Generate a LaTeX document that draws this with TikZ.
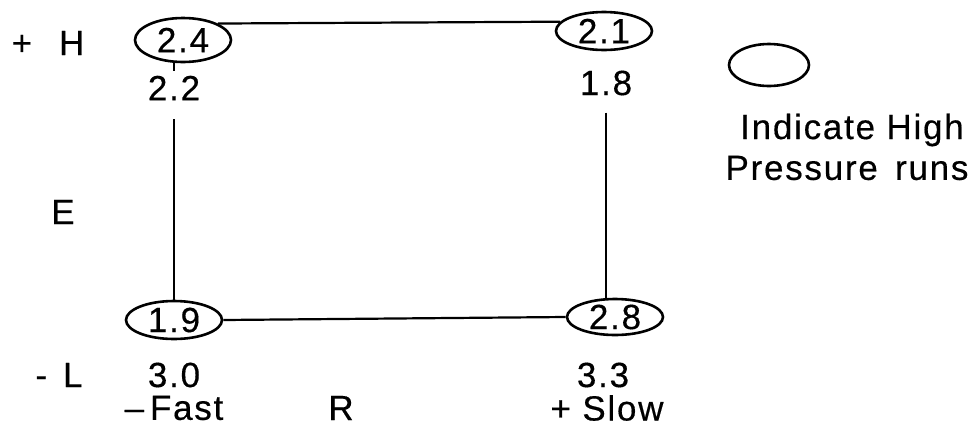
\documentclass[tikz,border=0pt]{standalone}
\usepackage{fontspec}
\setmainfont{Liberation Sans}[LetterSpace=5, FakeBold=0.4]
\usetikzlibrary{shapes.geometric}
\begin{document}
\begin{tikzpicture}[x=1pt,y=-1pt,
  every node/.style={font=\fontsize{35}{41}\selectfont, inner sep=0pt},
  run/.style={ellipse, draw, line width=2.6pt, minimum width=96pt, minimum height=44pt},
  conn/.style={line width=2.2pt},
  lbl/.style={inner sep=5pt}]
\useasboundingbox (0,0) rectangle (978,432);
% high pressure runs
\node[run] (n24) at (183,40) {2.4};
\node[run, minimum height=38pt] (n21) at (604,31) {2.1};
\node[run, minimum height=38pt] (n19) at (174,320) {1.9};
\node[run, minimum height=36pt] (n28) at (615,317) {2.8};
% other values
\node[lbl] (l22) at (174,88) {2.2};
\node[lbl] (l18) at (606,83) {1.8};
\node[lbl] (l30) at (174,375) {3.0};
\node[lbl] (l33) at (603,375) {3.3};
% axis labels
\node (hi) at (48,43) {+\hspace{27pt}H};
\node (lo) at (59,375) {-\hspace{16pt}L};
\node (e) at (63,212) {E};
\node (fast) at (174,408) {\textendash\,Fast};
\node (r) at (341,408) {R};
\node (slow) at (607,408) {+ Slow};
% legend
\node[ellipse, draw, line width=2.6pt, minimum width=80pt, minimum height=42pt] (leg) at (769,65) {};
\node (leg1) at (852,130) {Indicate High};
\node (leg2) at (847,168) {Pressure\, runs};
% connectors
\draw[conn] (n24.north east) -- (n21.168);
\draw[conn] (n19.east) -- (n28.west);
\draw[conn] (n24.south -| l22.north) -- (l22.north);
\draw[conn, shorten <=14pt] (l22.south) -- (n19.north);
\draw[conn, shorten <=12pt] (l18.south) -- (l18.south |- n28.north);
\end{tikzpicture}
\end{document}
